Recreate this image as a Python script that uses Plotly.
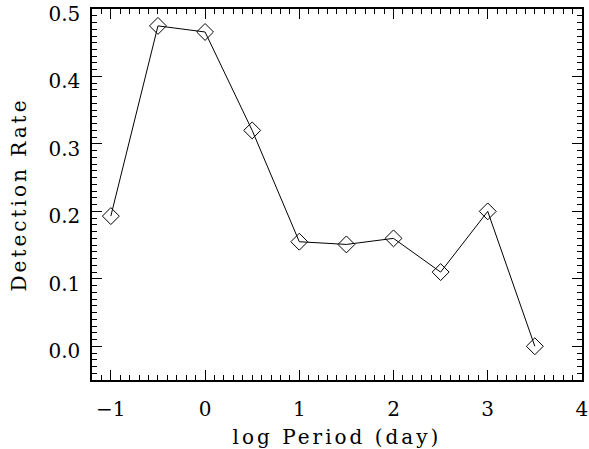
import plotly.graph_objects as go

log_period = [-1.0, -0.5, 0.0, 0.5, 1.0, 1.5, 2.0, 2.5, 3.0, 3.5]
detection_rate = [0.193, 0.475, 0.466, 0.320, 0.155, 0.151, 0.160, 0.110, 0.200, 0.000]

x_ticks = [-1, 0, 1, 2, 3, 4]
y_ticks = [0.0, 0.1, 0.2, 0.3, 0.4, 0.5]

font = "DejaVu Serif"

fig = go.Figure()
fig.add_trace(go.Scatter(
    x=log_period, y=detection_rate, mode="lines+markers",
    line=dict(color="black", width=1),
    marker=dict(symbol="diamond-open", size=13, color="black", line=dict(width=1)),
    showlegend=False, cliponaxis=False,
))

axis_common = dict(
    showgrid=False, zeroline=False, showline=True, linecolor="black", linewidth=1.5,
    ticks="inside", ticklen=10, tickwidth=1, tickcolor="black", mirror="allticks",
    tickfont=dict(family=font, size=20, color="black"), automargin=False,
    ticklabeloverflow="allow",
)

fig.update_xaxes(
    range=[-1.2, 4.0005], tickvals=x_ticks, ticktext=["\u22121", "0", "1", "2", "3", "4"],
    minor=dict(dtick=0.1, ticklen=5, tickcolor="black", ticks="inside", showgrid=False),
    title=dict(text="log Period (day)", font=dict(family=font, size=20, color="black"), standoff=10),
    ticklabelstandoff=10,
    **axis_common,
)
fig.update_yaxes(
    range=[-0.05, 0.50005], tickvals=y_ticks, ticktext=["0.0", "0.1", "0.2", "0.3", "0.4", "0.5"],
    minor=dict(dtick=0.01, ticklen=5, tickcolor="black", ticks="inside", showgrid=False),
    title=dict(text="Detection Rate", font=dict(family=font, size=20, color="black"), standoff=16),
    ticklabelstandoff=6, ticklabelshift=5,
    **axis_common,
)

fig.update_layout(
    width=589, height=449,
    margin=dict(l=92, r=7, t=9, b=69),
    plot_bgcolor="white", paper_bgcolor="white",
)

post = """
document.body.style.margin='0';
document.querySelectorAll('.xtitle, .ytitle').forEach(function(e){e.style.letterSpacing='3px';});
"""
fig.write_html("out.html", post_script=post, config={"displayModeBar": False})
